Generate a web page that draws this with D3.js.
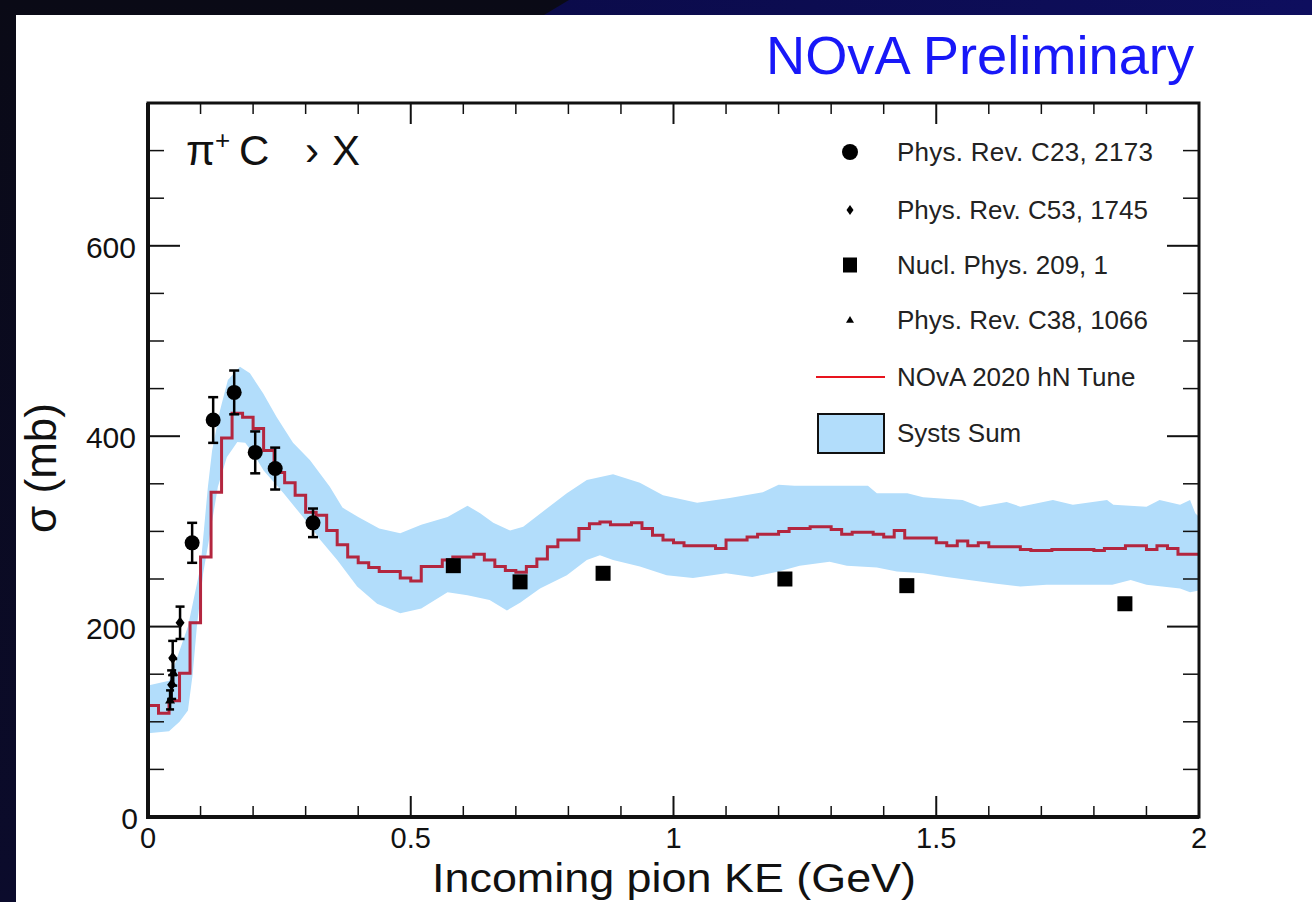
<!DOCTYPE html>
<html>
<head>
<meta charset="utf-8">
<script src="https://cdn.jsdelivr.net/npm/d3@7"></script>
<style>
  html, body { margin: 0; padding: 0; background: #0a0a1f; overflow: hidden; }
  svg { display: block; }
  text { font-family: "Liberation Sans", Arial, Helvetica, sans-serif; }
</style>
</head>
<body>
<svg id="chart" width="1312" height="902"></svg>
<script>
// ---- Model: NOvA 2020 hN tune, pi+ C total cross section, 0.02 GeV bins from 0 to 2 GeV
const binWidth = 0.02;
const tuneValues = [
  117, 109, 122, 151, 204, 273, 341, 398, 424, 420,
  408, 385, 362, 351, 338, 320, 317, 301, 286, 273,
  267, 262, 258, 258, 251, 248, 263, 263, 270, 273,
  273, 276, 270, 263, 259, 257, 263, 271, 284, 291,
  291, 303, 308, 310, 307, 307, 309, 303, 296, 291,
  288, 285, 285, 285, 282, 291, 291, 294, 297, 297,
  300, 303, 303, 305, 305, 302, 297, 299, 299, 297,
  294, 301, 293, 293, 293, 288, 285, 290, 285, 288,
  284, 284, 284, 281, 280, 280, 281, 281, 281, 281,
  280, 282, 282, 285, 285, 281, 285, 282, 276, 276
];

// ---- Systematic envelope (sum of systs), upper and lower edges
const bandUpperX = [0.0, 0.04, 0.057, 0.076, 0.10, 0.114, 0.122, 0.137, 0.152, 0.175, 0.194, 0.219, 0.245,
  0.276, 0.308, 0.346, 0.37, 0.40, 0.44, 0.48, 0.52, 0.57, 0.608, 0.632, 0.657, 0.689, 0.714, 0.759, 0.797,
  0.835, 0.885, 0.936, 0.98, 1.045, 1.107, 1.17, 1.20, 1.23, 1.37, 1.387, 1.445, 1.475, 1.55, 1.583, 1.634,
  1.66, 1.722, 1.76, 1.825, 1.837, 1.90, 1.925, 1.964, 1.983, 1.993, 2.0];
const bandUpper = [138, 143, 170, 200, 263, 347, 385, 427, 459, 473, 466, 445, 420,
  393, 375, 347, 325, 315, 303, 298, 307, 315, 327, 319, 309, 301, 305, 324, 340,
  354, 360, 351, 338, 330, 335, 341, 349, 348, 348, 340, 340, 336, 333, 326, 331,
  326, 333, 328, 333, 328, 326, 333, 328, 333, 319, 315];
const bandLowerX = [0.0, 0.04, 0.06, 0.076, 0.085, 0.093, 0.105, 0.117, 0.133, 0.150, 0.170, 0.185, 0.200,
  0.220, 0.258, 0.295, 0.328, 0.360, 0.398, 0.436, 0.48, 0.52, 0.57, 0.608, 0.65, 0.683, 0.708, 0.746,
  0.797, 0.835, 0.86, 0.885, 0.936, 0.987, 1.037, 1.10, 1.15, 1.20, 1.24, 1.297, 1.33, 1.387, 1.425, 1.475,
  1.52, 1.615, 1.66, 1.71, 1.835, 1.87, 1.90, 1.964, 1.983, 2.0];
const bandLower = [88, 90, 100, 112, 150, 200, 256, 294, 347, 378, 394, 393, 382,
  364, 340, 315, 291, 270, 242, 224, 214, 219, 236, 233, 228, 217, 225, 240,
  254, 270, 275, 270, 263, 254, 251, 256, 252, 258, 264, 268, 264, 262, 258, 256,
  252, 245, 242, 244, 244, 249, 244, 240, 236, 238];

// ---- Measurements
const c23KE  = [0.084, 0.124, 0.164, 0.204, 0.242, 0.314];
const c23Sig = [288, 417, 446, 383, 366, 309];
const c23Err = [21, 24, 23, 22, 22, 15];

const c53KE  = [0.045, 0.047, 0.061];
const c53Sig = [139, 167, 204];
const c53Err = [15, 18, 17];

const np209KE  = [0.581, 0.708, 0.866, 1.212, 1.444, 1.859];
const np209Sig = [264, 247, 256, 250, 243, 224];

const c38KE  = [0.042, 0.048];
const c38Sig = [123, 152];
const c38Err = [10, 14];

// ---- Axis ticks
const xMajorTicks = [0, 0.5, 1, 1.5, 2];
const xTickLabels = ["0", "0.5", "1", "1.5", "2"];
const yMajorTicks = [0, 200, 400, 600];
const yTickLabels = ["0", "200", "400", "600"];

const legendLabels = ["Phys. Rev. C23, 2173", "Phys. Rev. C53, 1745", "Nucl. Phys. 209, 1",
  "Phys. Rev. C38, 1066", "NOvA 2020 hN Tune", "Systs Sum"];

// ---- Layout
const W = 1312, H = 902;
const plot = { left: 148, right: 1199, top: 103, bottom: 817 };
const svg = d3.select("#chart");

const x = d3.scaleLinear().domain([0, 2]).range([plot.left, plot.right]);
const y = d3.scaleLinear().domain([0, 750]).range([plot.bottom, plot.top]);

// ---- Slide background
const defs = svg.append("defs");
const g1 = defs.append("linearGradient").attr("id", "bgTop").attr("x1", 0).attr("x2", 1).attr("y1", 0).attr("y2", 0);
g1.append("stop").attr("offset", "0%").attr("stop-color", "#0b0b4a");
g1.append("stop").attr("offset", "100%").attr("stop-color", "#0e0e5e");
const g2 = defs.append("linearGradient").attr("id", "bgLeft").attr("x1", 0).attr("x2", 0).attr("y1", 0).attr("y2", 1);
g2.append("stop").attr("offset", "0%").attr("stop-color", "#0a0a16");
g2.append("stop").attr("offset", "100%").attr("stop-color", "#0b0b2c");

svg.append("rect").attr("width", W).attr("height", H).attr("fill", "url(#bgLeft)");
svg.append("path").attr("d", "M569,0 L1312,0 L1312,15 L544,15 Z").attr("fill", "url(#bgTop)");
svg.append("rect").attr("x", 16).attr("y", 15).attr("width", W - 16).attr("height", H - 15).attr("fill", "#ffffff");

// ---- Header
svg.append("text").attr("x", 1194).attr("y", 74).attr("text-anchor", "end")
  .attr("font-size", 53).attr("fill", "#1818f8")
  .attr("textLength", 428).attr("lengthAdjust", "spacingAndGlyphs")
  .text("NOvA Preliminary");

// ---- Systematic band
const clip = defs.append("clipPath").attr("id", "plotClip");
clip.append("rect").attr("x", plot.left).attr("y", plot.top)
  .attr("width", plot.right - plot.left).attr("height", plot.bottom - plot.top);

const bandPts = bandUpperX.map((v, i) => [x(v), y(bandUpper[i])])
  .concat(bandLowerX.map((v, i) => [x(v), y(bandLower[i])]).reverse());
svg.append("path").attr("clip-path", "url(#plotClip)")
  .attr("d", d3.line()(bandPts) + "Z")
  .attr("fill", "#b2ddfb").attr("stroke", "none");

// ---- Tune histogram (step line)
const histPts = tuneValues.map((v, i) => [i * binWidth, v]);
histPts.push([tuneValues.length * binWidth, tuneValues[tuneValues.length - 1]]);
svg.append("path").attr("clip-path", "url(#plotClip)")
  .attr("d", d3.line().x(d => x(d[0])).y(d => y(d[1])).curve(d3.curveStepAfter)(histPts))
  .attr("fill", "none").attr("stroke", "#b3263f").attr("stroke-width", 3);

// ---- Error bars
function errorBars(ke, sig, err, cap) {
  const g = svg.append("g").attr("stroke", "#000").attr("stroke-width", 2.5);
  ke.forEach((k, i) => {
    const cx = x(k), yt = y(sig[i] + err[i]), yb = y(sig[i] - err[i]);
    g.append("line").attr("x1", cx).attr("x2", cx).attr("y1", yt).attr("y2", yb);
    g.append("line").attr("x1", cx - cap).attr("x2", cx + cap).attr("y1", yt).attr("y2", yt);
    g.append("line").attr("x1", cx - cap).attr("x2", cx + cap).attr("y1", yb).attr("y2", yb);
  });
}
errorBars(c38KE, c38Sig, c38Err, 4);
errorBars(c53KE, c53Sig, c53Err, 4.5);
errorBars(c23KE, c23Sig, c23Err, 5);

const diamond = (cx, cy, w, h) => `M${cx},${cy - h} L${cx + w},${cy} L${cx},${cy + h} L${cx - w},${cy} Z`;
const triangle = (cx, cy, s) => `M${cx},${cy - s} L${cx + s},${cy + s * 0.7} L${cx - s},${cy + s * 0.7} Z`;

svg.append("g").selectAll("path").data(c38KE).join("path")
  .attr("d", (d, i) => triangle(x(d), y(c38Sig[i]), 5)).attr("fill", "#000");
svg.append("g").selectAll("path").data(c53KE).join("path")
  .attr("d", (d, i) => diamond(x(d), y(c53Sig[i]), 4.5, 6)).attr("fill", "#000");
svg.append("g").selectAll("circle").data(c23KE).join("circle")
  .attr("cx", d => x(d)).attr("cy", (d, i) => y(c23Sig[i])).attr("r", 7.5).attr("fill", "#000");
svg.append("g").selectAll("rect").data(np209KE).join("rect")
  .attr("x", d => x(d) - 7.5).attr("y", (d, i) => y(np209Sig[i]) - 7.5)
  .attr("width", 15).attr("height", 15).attr("fill", "#000");

// ---- Frame and ticks
const axisG = svg.append("g").attr("stroke", "#111");
axisG.append("rect").attr("x", plot.left).attr("y", plot.top)
  .attr("width", plot.right - plot.left).attr("height", plot.bottom - plot.top)
  .attr("fill", "none").attr("stroke-width", 3);
axisG.append("line").attr("x1", plot.left).attr("x2", plot.left).attr("y1", plot.top).attr("y2", plot.bottom + 2).attr("stroke-width", 4);
axisG.append("line").attr("x1", plot.left - 2).attr("x2", plot.right).attr("y1", plot.bottom).attr("y2", plot.bottom).attr("stroke-width", 4);

const xMinor = d3.range(0, 2.0001, 0.1).filter(v => !xMajorTicks.some(m => Math.abs(m - v) < 1e-6));
const yMinor = d3.range(0, 750.1, 50).filter(v => !yMajorTicks.includes(v));
const tick = (x1, y1, x2, y2, w) => axisG.append("line")
  .attr("x1", x1).attr("y1", y1).attr("x2", x2).attr("y2", y2).attr("stroke-width", w);

xMajorTicks.forEach(v => { tick(x(v), plot.bottom, x(v), plot.bottom - 21, 2); tick(x(v), plot.top, x(v), plot.top + 21, 2); });
xMinor.forEach(v => { tick(x(v), plot.bottom, x(v), plot.bottom - 11, 1.5); tick(x(v), plot.top, x(v), plot.top + 11, 1.5); });
yMajorTicks.forEach(v => { tick(plot.left, y(v), plot.left + 32, y(v), 2); tick(plot.right, y(v), plot.right - 32, y(v), 2); });
yMinor.forEach(v => { tick(plot.left, y(v), plot.left + 16, y(v), 1.5); tick(plot.right, y(v), plot.right - 16, y(v), 1.5); });

// ---- Tick labels
svg.append("g").selectAll("text").data(xMajorTicks).join("text")
  .attr("x", d => x(d)).attr("y", 848).attr("text-anchor", "middle")
  .attr("font-size", 29).attr("fill", "#111").text((d, i) => xTickLabels[i]);
svg.append("g").selectAll("text").data(yMajorTicks).join("text")
  .attr("x", d => d === 0 ? 138 : 136).attr("y", d => y(d) + (d === 0 ? 12 : 12)).attr("text-anchor", "end")
  .attr("font-size", 30).attr("fill", "#111").text((d, i) => yTickLabels[i]);

// ---- Axis titles
svg.append("text").attr("x", 674).attr("y", 892).attr("text-anchor", "middle")
  .attr("font-size", 41).attr("fill", "#111")
  .attr("textLength", 484).attr("lengthAdjust", "spacingAndGlyphs")
  .text("Incoming pion KE (GeV)");
svg.append("text").attr("transform", "translate(56,468) rotate(-90)").attr("text-anchor", "middle")
  .attr("font-size", 44).attr("fill", "#111").text("σ (mb)");

// ---- Reaction label
const rl = svg.append("text").attr("x", 186).attr("y", 165).attr("font-size", 42).attr("fill", "#111");
rl.append("tspan").text("π");
rl.append("tspan").attr("dy", -16).attr("font-size", 26).text("+");
rl.append("tspan").attr("x", 239).attr("dy", 16).text("C");
rl.append("tspan").attr("x", 305).text("›");
rl.append("tspan").attr("x", 332).text("X");

// ---- Legend
const legRows = [152, 210, 265, 320, 377, 433];
const lg = svg.append("g");
lg.append("circle").attr("cx", 850).attr("cy", legRows[0]).attr("r", 8).attr("fill", "#000");
lg.append("path").attr("d", diamond(850, legRows[1], 3.5, 5)).attr("fill", "#000");
lg.append("rect").attr("x", 843).attr("y", legRows[2] - 7.5).attr("width", 14).attr("height", 15).attr("fill", "#000");
lg.append("path").attr("d", triangle(850, legRows[3], 4)).attr("fill", "#000");
lg.append("line").attr("x1", 816).attr("x2", 885).attr("y1", legRows[4]).attr("y2", legRows[4])
  .attr("stroke", "#e8141e").attr("stroke-width", 2);
lg.append("rect").attr("x", 818).attr("y", legRows[5] - 19).attr("width", 66).attr("height", 39)
  .attr("fill", "#b2ddfb").attr("stroke", "#111").attr("stroke-width", 2);
lg.selectAll("text").data(legendLabels).join("text")
  .attr("x", 897).attr("y", (d, i) => legRows[i] + 9).attr("font-size", 26).attr("fill", "#222")
  .attr("textLength", (d, i) => i === 0 ? 256 : null)
  .text(d => d);
</script>
</body>
</html>
